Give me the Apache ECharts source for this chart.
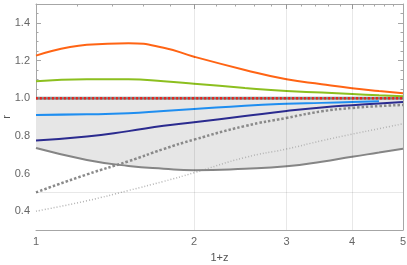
<!DOCTYPE html>
<html>
<head>
<meta charset="utf-8">
<script src="https://cdn.jsdelivr.net/npm/echarts@6/dist/echarts.min.js"></script>
<style>
  html, body { margin: 0; padding: 0; background: #fff; }
  #chart { width: 407px; height: 265px; }
</style>
</head>
<body>
<div id="chart"></div>
<script>
// 1+z sample positions
const zs = [1, 1.25, 1.5, 1.75, 2, 2.5, 3, 3.5, 4, 4.5, 5];

const rOrange = [1.226, 1.283, 1.292, 1.268, 1.22, 1.15, 1.10, 1.074, 1.053, 1.038, 1.026];
const rGreen = [1.09, 1.10, 1.10, 1.09, 1.077, 1.054, 1.038, 1.03, 1.022, 1.015, 1.01];
const rBlue = [0.911, 0.914, 0.92, 0.932, 0.942, 0.96, 0.97, 0.975, 0.98, 0.984];
const rNavy = [0.775, 0.796, 0.825, 0.853, 0.872, 0.905, 0.932, 0.951, 0.963, 0.972, 0.98];
const rGray = [0.735, 0.672, 0.64, 0.625, 0.617, 0.625, 0.638, 0.662, 0.689, 0.711, 0.731];
const rDotted = [0.50, 0.595, 0.665, 0.73, 0.78, 0.852, 0.895, 0.93, 0.948, 0.958, 0.964];
const rLightDotted = [0.40, 0.455, 0.51, 0.558, 0.604, 0.685, 0.73, 0.774, 0.809, 0.838, 0.864];
const rOne = [1, 1, 1, 1, 1, 1, 1, 1, 1, 1, 1];

const xTicks = [1, 2, 3, 4, 5];
const xMinor = [1.2, 1.4, 1.6, 1.8, 2.2, 2.4, 2.6, 2.8, 3.2, 3.4, 3.6, 3.8, 4.2, 4.4, 4.6, 4.8];
const xGrid = [2, 3, 4];
const yTicks = [0.4, 0.6, 0.8, 1.0, 1.2, 1.4];
const yMinor = [0.35, 0.45, 0.5, 0.55, 0.65, 0.7, 0.75, 0.85, 0.9, 0.95, 1.05, 1.1, 1.15, 1.25, 1.3, 1.35, 1.45];
const yGrid = [0.5, 1.0];

const pairs = (ys) => ys.map((y, i) => [zs[i], y]);

const frame = '#a6a6a6';
const font = 'Liberation Sans';

function xAx(pos, major, labels) {
    return {
        type: 'log', logBase: 10, min: 1, max: 5, position: pos,
        name: labels ? '1+z' : '', nameLocation: 'middle', nameGap: 22, nameMoveOverlap: false,
        nameTextStyle: { color: '#555', fontSize: 11, fontFamily: font },
        axisLine: { show: major, lineStyle: { color: frame, width: 1 } },
        axisTick: { show: true, inside: true, length: major ? 5 : 2.5,
            customValues: major ? xTicks : xMinor, lineStyle: { color: frame } },
        axisLabel: { show: labels, customValues: xTicks, color: '#666', fontSize: 11,
            fontFamily: font, margin: 6 },
        splitLine: { show: false }
    };
}

function yAx(pos, major, labels) {
    return {
        type: 'value', min: 0.3, max: 1.5, position: pos,
        name: labels ? 'r' : '', nameLocation: 'middle', nameGap: 24, nameMoveOverlap: false,
        nameTextStyle: { color: '#555', fontSize: 11, fontFamily: font },
        axisLine: { show: major, lineStyle: { color: frame, width: 1 } },
        axisTick: { show: true, inside: true, length: major ? 5 : 2.5,
            customValues: major ? yTicks : yMinor, lineStyle: { color: frame } },
        axisLabel: { show: labels, customValues: yTicks, color: '#666', fontSize: 11,
            fontFamily: font, margin: 6, formatter: (v) => v.toFixed(1) },
        splitLine: { show: false }
    };
}

function curve(name, ys, color, width, type, z) {
    return {
        name, type: 'line', data: pairs(ys), smooth: 0.5, showSymbol: false,
        lineStyle: { color, width, type: type || 'solid' }, z: z || 4
    };
}

const chart = echarts.init(document.getElementById('chart'));
chart.setOption({
    animation: false,
    grid: { left: 36, right: 4, top: 4, bottom: 35, containLabel: false, outerBoundsMode: 'none' },
    xAxis: [xAx('bottom', true, true), xAx('bottom', false, false), xAx('top', true, false), xAx('top', false, false)],
    yAxis: [yAx('left', true, true), yAx('left', false, false), yAx('right', true, false), yAx('right', false, false)],
    series: [
        // shaded region: fill below r=1, then blank out below the gray curve
        {
            name: 'bandTop', type: 'line', data: pairs(rOne), showSymbol: false,
            lineStyle: { opacity: 0 }, areaStyle: { color: '#e6e6e6', origin: 'start', opacity: 1 }, z: 1
        },
        {
            name: 'bandBottom', type: 'line', data: pairs(rGray), smooth: 0.5, showSymbol: false,
            lineStyle: { opacity: 0 }, areaStyle: { color: '#ffffff', origin: 'start', opacity: 1 }, z: 2
        },
        {
            name: 'grid', type: 'line', data: [], z: 3,
            markLine: {
                silent: true, symbol: 'none', label: { show: false },
                lineStyle: { color: 'rgba(0,0,0,0.09)', type: 'solid', width: 1 },
                data: xGrid.map((v) => ({ xAxis: v })).concat(yGrid.map((v) => ({ yAxis: v })))
            }
        },
        curve('lightDotted', rLightDotted, '#b4b4b4', 1.5, [1, 2]),
        curve('dotted', rDotted, '#8a8a8a', 2.5, [2.5, 2]),
        curve('gray', rGray, '#858585', 2),
        curve('grayTop', rOne, '#8c8c8c', 3),
        curve('navy', rNavy, '#2b2b8f', 2),
        curve('blue', rBlue, '#1f8ef0', 2),
        curve('green', rGreen, '#8cbf1f', 2),
        curve('orange', rOrange, '#ff6414', 2),
        curve('red', rOne, '#e8231c', 2.5, [2, 2], 5)
    ]
});
</script>
</body>
</html>
